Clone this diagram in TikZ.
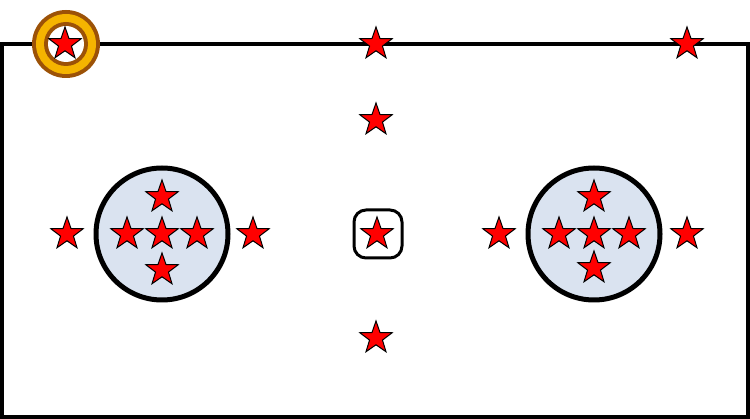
\documentclass[tikz,border=0pt]{standalone}
\usetikzlibrary{shapes.geometric}
\definecolor{starred}{HTML}{FF0000}
\definecolor{ringbrown}{HTML}{9C5207}
\definecolor{ringorange}{HTML}{F5B400}
\definecolor{discblue}{HTML}{DAE3F0}
\tikzset{
  starnode/.style={star, star points=5, star point ratio=2.5, minimum size=34pt, inner sep=0pt, fill=starred, draw=black, line width=1pt},
  disc/.style={circle, minimum size=132pt, inner sep=0pt, fill=discblue, draw=black, line width=5pt},
  frame/.style={draw=black, line width=3.2pt},
  rbox/.style={rectangle, rounded corners=12pt, minimum size=48pt, inner sep=0pt, draw=black, line width=3pt, fill=white}
}
\begin{document}
\begin{tikzpicture}[x=1pt,y=-1pt]
\useasboundingbox (0,0) rectangle (750,419);
\draw[frame] (2,44) rectangle (748,417);
% ring
\node[circle, minimum size=68pt, inner sep=0pt, fill=ringbrown] (ringout) at (66,44) {};
\node[circle, minimum size=60pt, inner sep=0pt, fill=ringorange] (ringmid) at (66,44) {};
\node[circle, minimum size=44pt, inner sep=0pt, fill=ringbrown] (ringin) at (66,44) {};
\node[circle, minimum size=36pt, inner sep=0pt, fill=white] (ringhole) at (66,44) {};
\node[starnode] (s0) at (65,44) {};
% top stars
\node[starnode] (stop) at (376,44) {};
\node[starnode] (stopr) at (687,44) {};
% middle column
\node[starnode] (smid1) at (376,120) {};
\node[rbox] (box) at (378,234) {};
\node[starnode] (sbox) at (377,234) {};
\node[starnode] (smid3) at (376,338) {};
% left disc
\node[disc] (dl) at (162,234) {};
\node[starnode] (dlc) at (162,234) {};
\node[starnode] (dll) at (127,234) {};
\node[starnode] (dlr) at (197,234) {};
\node[starnode] (dlt) at (162,197) {};
\node[starnode] (dlb) at (162,270) {};
\node[starnode] (ol1) at (67,234) {};
\node[starnode] (ol2) at (253,234) {};
% right disc
\node[disc] (dr) at (594,234) {};
\node[starnode] (drc) at (594,234) {};
\node[starnode] (drl) at (559,234) {};
\node[starnode] (drr) at (629,234) {};
\node[starnode] (drt) at (594,197) {};
\node[starnode] (drb) at (594,268) {};
\node[starnode] (or1) at (499,234) {};
\node[starnode] (or2) at (687,234) {};
\end{tikzpicture}
\end{document}
